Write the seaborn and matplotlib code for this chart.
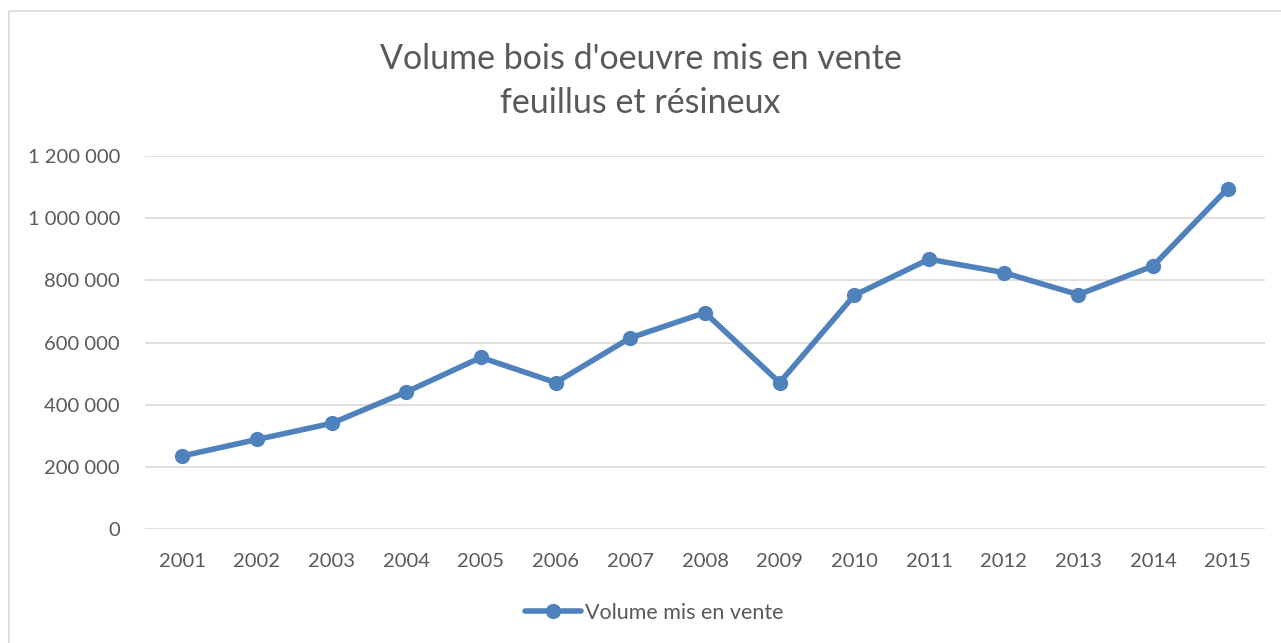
import pandas as pd
import matplotlib.pyplot as plt
import matplotlib.ticker as mticker
from matplotlib.patches import Rectangle
import seaborn as sns

# Data
years = ['2001', '2002', '2003', '2004', '2005', '2006', '2007', '2008',
         '2009', '2010', '2011', '2012', '2013', '2014', '2015']
volume = [235000, 288000, 340000, 441000, 552000, 471000, 615000, 696000,
          471000, 752000, 868000, 825000, 754000, 846000, 1095000]
series_name = 'Volume mis en vente'
title = "Volume bois d'oeuvre mis en vente\nfeuillus et résineux"

df = pd.DataFrame({'year': years, 'volume': volume})

sns.set_theme(style='white')
plt.rcParams['font.family'] = ['Lato', 'DejaVu Sans']

blue = '#4F81BD'
text_color = '#595959'
grid_color = '#D9D9D9'

W, H = 1281, 643
fig = plt.figure(figsize=(W / 100, H / 100), dpi=100)
ax = fig.add_axes([145 / W, 1 - 529 / H, 1120 / W, 373 / H])

sns.lineplot(data=df, x='year', y='volume', ax=ax, color=blue, linewidth=4,
             marker='o', markersize=11, markeredgewidth=0, label=series_name,
             sort=False)

ax.set_xlim(-0.5, len(years) - 0.5)
ax.set_ylim(0, 1200000)
ax.set_yticks(range(0, 1200001, 200000))
ax.yaxis.set_major_formatter(
    mticker.FuncFormatter(lambda v, p: f'{int(v):,}'.replace(',', ' ')))
ax.grid(axis='y', color=grid_color, linewidth=1.2)
ax.set_axisbelow(True)
for s in ax.spines.values():
    s.set_visible(False)
ax.tick_params(axis='both', length=0, labelsize=14.5, colors=text_color)
ax.tick_params(axis='y', pad=18)
ax.tick_params(axis='x', pad=17)
ax.set_xlabel('')
ax.set_ylabel('')

fig.text(0.5, 1 - 81 / H, title, ha='center', va='center', fontsize=24.5,
         color=text_color, linespacing=1.45)

ax.get_legend().remove()
leg = fig.legend(*ax.get_legend_handles_labels(), loc='center',
                 bbox_to_anchor=(654 / W, 1 - 613 / H), frameon=False,
                 fontsize=15.5, handlelength=2.6, handletextpad=0.2)
for t in leg.get_texts():
    t.set_color(text_color)

# chart border (right and bottom edges fall outside the image)
fig.patches.append(Rectangle((9 / W, -0.05), 1.1, 1 - 11 / H + 0.05,
                             transform=fig.transFigure, fill=False,
                             edgecolor='#D9D9D9', linewidth=1.2))

fig.savefig('out.png', dpi=100)
